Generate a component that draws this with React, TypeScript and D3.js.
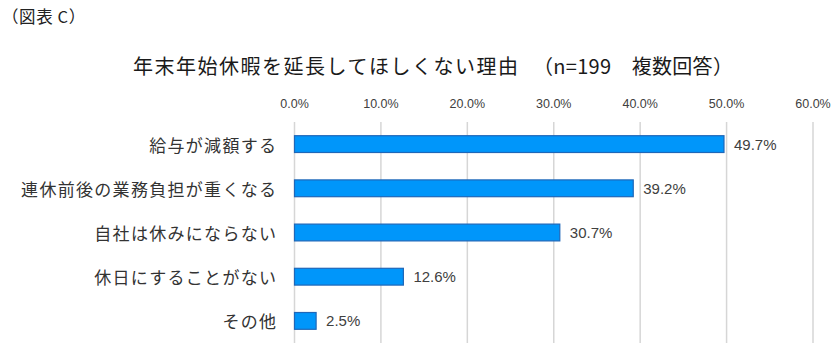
import React from "react";
import * as d3 from "d3";

const categories = [
  "給与が減額する",
  "連休前後の業務負担が重くなる",
  "自社は休みにならない",
  "休日にすることがない",
  "その他",
];
const values = [49.7, 39.2, 30.7, 12.6, 2.5];
const tickValues = [0, 10, 20, 30, 40, 50, 60];
const figureLabel = "（図表 C）";
const titleMain = "年末年始休暇を延長してほしくない理由";
const titleSub = "（n=199　複数回答）";

const W = 840;
const H = 362;
const plot = { left: 294.5, right: 813, top: 122, bottom: 343 };

export default function App() {
  const x = d3.scaleLinear().domain([0, 60]).range([plot.left, plot.right]);
  const y = d3
    .scaleBand<string>()
    .domain(categories)
    .range([plot.top, plot.bottom])
    .paddingInner(0.62)
    .paddingOuter(0.31);

  const jp = "'Noto Sans CJK JP', 'Noto Sans', sans-serif";
  const num = "'Liberation Sans', Arial, 'Noto Sans', sans-serif";
  const ls = 1.3;

  return (
    <svg
      width={W}
      height={H}
      style={{ position: "absolute", left: 0, top: 0, background: "#fff" }}
    >
      <rect x={0} y={0} width={W} height={H} fill="#fff" />
      <text x={2} y={16} fontSize={16.5} letterSpacing={0.6} fontFamily={jp} fill="#222" dominantBaseline="central">
        {figureLabel}
      </text>
      <text x={133} y={65} fontSize={20} fontFamily={jp} fill="#1a1a1a" letterSpacing={1.5} dominantBaseline="central">
        {titleMain}
      </text>
      <text x={533} y={65} fontSize={20} fontFamily={jp} fill="#1a1a1a" letterSpacing={0.3} dominantBaseline="central">
        {titleSub}
      </text>

      {tickValues.map((t) => (
        <g key={t}>
          <line
            x1={x(t)}
            x2={x(t)}
            y1={plot.top}
            y2={plot.bottom}
            stroke="#d6d6d6"
            strokeWidth={1.5}
          />
          <text
            x={x(t)}
            y={104}
            textAnchor="middle"
            dominantBaseline="central"
            fontSize={12.5}
            fontFamily={num}
            fill="#404040"
          >
            {t.toFixed(1) + "%"}
          </text>
        </g>
      ))}

      {categories.map((c, i) => {
        const yc = (y(c) as number) + y.bandwidth() / 2;
        return (
          <g key={c}>
            <text
              x={276 + ls}
              y={yc}
              textAnchor="end"
              dominantBaseline="central"
              fontSize={17}
              letterSpacing={ls}
              fontFamily={jp}
              fill="#333"
            >
              {c}
            </text>
            <rect
              x={x(0)}
              y={y(c) as number}
              width={x(values[i]) - x(0)}
              height={y.bandwidth()}
              fill="#0096fa"
              stroke="#1f67b8"
              strokeWidth={1.2}
            />
            <text
              x={x(values[i]) + 10}
              y={yc}
              dominantBaseline="central"
              fontSize={15}
              fontFamily={num}
              fill="#404040"
            >
              {values[i].toFixed(1) + "%"}
            </text>
          </g>
        );
      })}
    </svg>
  );
}
